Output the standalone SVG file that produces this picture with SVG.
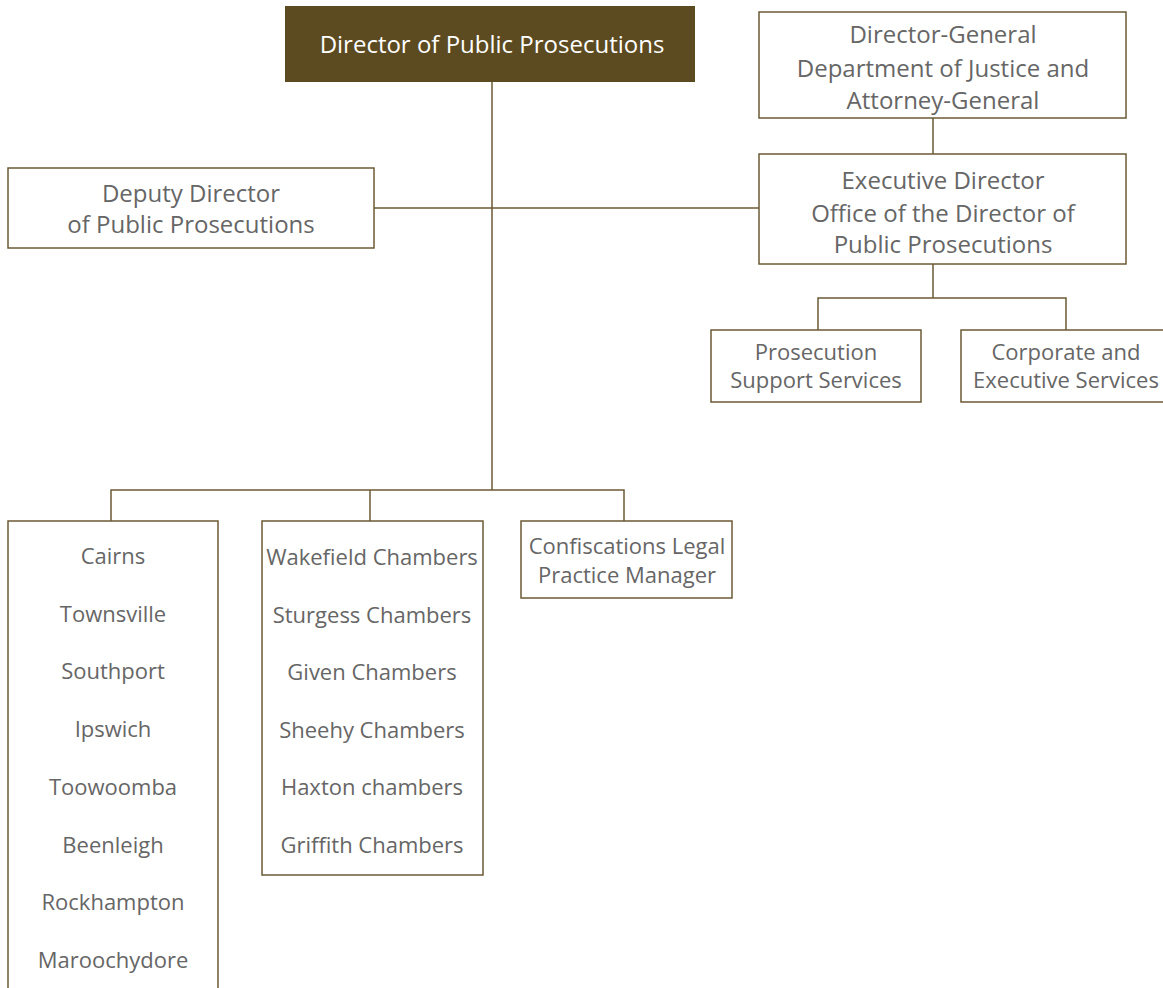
<svg xmlns="http://www.w3.org/2000/svg" width="1163" height="988" viewBox="0 0 1163 988">
<style>
.box{fill:#fff;stroke:#6b5a35;stroke-width:1.5}
.t{font-family:"Open Sans","Liberation Sans",sans-serif;font-size:22px;fill:#666;text-anchor:middle}
.l{font-size:24px}
.w{fill:#fff}
.c{fill:none;stroke:#6b5a35;stroke-width:1.5}
</style>
<rect width="1163" height="988" fill="#fff"/>
<g id="connectors">
<path class="c" d="M492 82V490M374 208H759M933 118V154M933 264V298M818 330V298H1066V330M111 521V490H624V521M370 490V521"/>
</g>
<g id="dpp">
<rect x="285" y="6" width="410" height="76" fill="#5c4a20"/>
<text class="t l w" x="492" y="52.5">Director of Public Prosecutions</text>
</g>
<g id="dg">
<rect class="box" x="759" y="12" width="367" height="106"/>
<text class="t l" x="943" y="42.5">Director-General</text>
<text class="t l" x="943" y="76.5">Department of Justice and</text>
<text class="t l" x="943" y="108.5">Attorney-General</text>
</g>
<g id="ed">
<rect class="box" x="759" y="154" width="367" height="110"/>
<text class="t l" x="943" y="188.5">Executive Director</text>
<text class="t l" x="943" y="221.5">Office of the Director of</text>
<text class="t l" x="943" y="252.5">Public Prosecutions</text>
</g>
<g id="deputy">
<rect class="box" x="8" y="168" width="366" height="80"/>
<text class="t l" x="191" y="201.5">Deputy Director</text>
<text class="t l" x="191" y="232.5">of Public Prosecutions</text>
</g>
<g id="pss">
<rect class="box" x="711" y="330" width="210" height="72"/>
<text class="t" x="816" y="360">Prosecution</text>
<text class="t" x="816" y="388">Support Services</text>
</g>
<g id="ces">
<rect class="box" x="961" y="330" width="210" height="72"/>
<text class="t" x="1066" y="360">Corporate and</text>
<text class="t" x="1066" y="388">Executive Services</text>
</g>
<g id="regions">
<path class="box" d="M8 988V521H218V988"/>
<text class="t" x="113" y="564">Cairns</text>
<text class="t" x="113" y="622">Townsville</text>
<text class="t" x="113" y="679">Southport</text>
<text class="t" x="113" y="737">Ipswich</text>
<text class="t" x="113" y="795">Toowoomba</text>
<text class="t" x="113" y="853">Beenleigh</text>
<text class="t" x="113" y="910">Rockhampton</text>
<text class="t" x="113" y="968">Maroochydore</text>
</g>
<g id="chambers">
<rect class="box" x="262" y="521" width="221" height="354"/>
<text class="t" x="372" y="565">Wakefield Chambers</text>
<text class="t" x="372" y="623">Sturgess Chambers</text>
<text class="t" x="372" y="680">Given Chambers</text>
<text class="t" x="372" y="738">Sheehy Chambers</text>
<text class="t" x="372" y="795">Haxton chambers</text>
<text class="t" x="372" y="853">Griffith Chambers</text>
</g>
<g id="confiscations">
<rect class="box" x="521" y="521" width="211" height="77"/>
<text class="t" x="627" y="554">Confiscations Legal</text>
<text class="t" x="627" y="583">Practice Manager</text>
</g>
</svg>
